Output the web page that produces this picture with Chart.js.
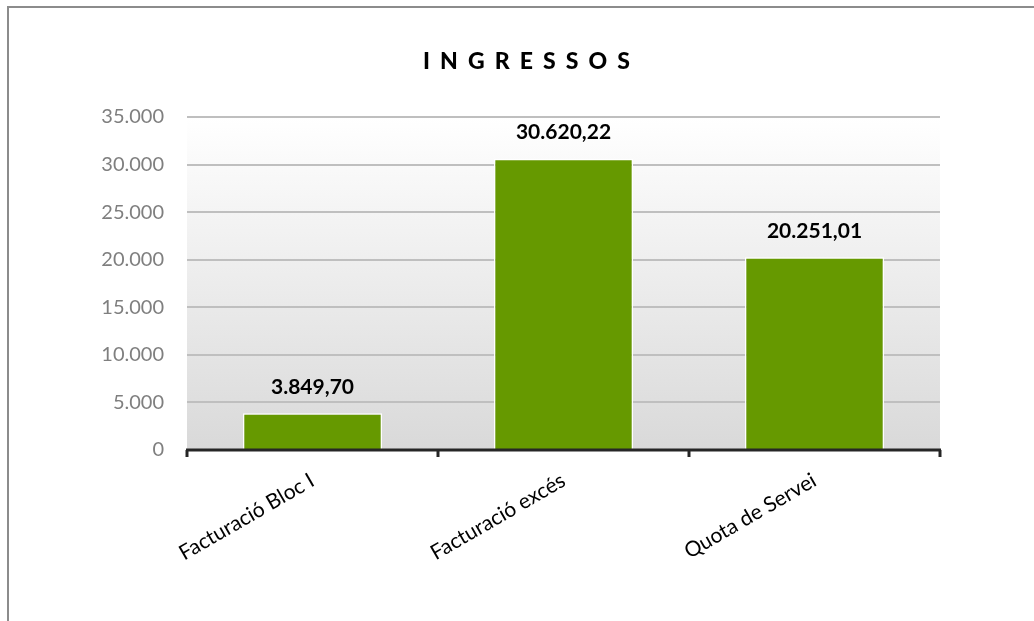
<!DOCTYPE html>
<html>
<head>
<meta charset="utf-8">
<script src="https://cdn.jsdelivr.net/npm/chart.js@4"></script>
<style>
html,body{margin:0;padding:0;background:#fff;}
#wrap{position:relative;width:1034px;height:621px;overflow:hidden;}
#frame{position:absolute;left:7px;top:6px;width:1100px;height:700px;border:2px solid #8c8c8c;box-sizing:border-box;}
canvas{position:absolute;left:0;top:0;}
</style>
</head>
<body>
<div id="wrap">
<div id="frame"></div>
<canvas id="c" width="1034" height="621"></canvas>
</div>
<script>
const categories = ["Facturació Bloc I", "Facturació excés", "Quota de Servei"];
const values = [3849.70, 30620.22, 20251.01];
const valueLabels = ["3.849,70", "30.620,22", "20.251,01"];
const yTicks = [0, 5000, 10000, 15000, 20000, 25000, 30000, 35000];
const titleText = "INGRESSOS";

const FONT = "Lato, 'Open Sans', sans-serif";

function fmtThousands(v){
  return String(v).replace(/\B(?=(\d{3})+(?!\d))/g, ".");
}

const bgPlugin = {
  id: 'bg',
  beforeDraw(chart){
    const {ctx, chartArea:a} = chart;
    const g = ctx.createLinearGradient(0, a.top, 0, a.bottom);
    g.addColorStop(0, '#ffffff');
    g.addColorStop(1, '#d9d9d9');
    ctx.save();
    ctx.fillStyle = g;
    ctx.fillRect(a.left, a.top, a.right - a.left, a.bottom - a.top);
    ctx.restore();
  }
};

const decoPlugin = {
  id: 'deco',
  afterDraw(chart){
    const {ctx, chartArea:a} = chart;
    const xs = chart.scales.x, ys = chart.scales.y;
    ctx.save();
    // title, letter-spaced across a fixed span
    ctx.fillStyle = '#000';
    ctx.font = "900 23px " + FONT;
    ctx.textAlign = 'left';
    ctx.textBaseline = 'middle';
    const chars = titleText.split('');
    const widths = chars.map(c => ctx.measureText(c).width);
    const total = widths.reduce((s, w) => s + w, 0);
    const left = 423, right = 630;
    const gap = (right - left - total) / (chars.length - 1);
    let tx = left;
    chars.forEach((c, i) => { ctx.fillText(c, tx, 62); tx += widths[i] + gap; });
    // axis line
    const y0 = ys.getPixelForValue(0);
    ctx.strokeStyle = '#262626';
    ctx.lineWidth = 3;
    ctx.beginPath();
    ctx.moveTo(a.left - 1, y0);
    ctx.lineTo(a.right + 1, y0);
    ctx.stroke();
    // tick marks at category boundaries
    const n = categories.length;
    const w = (xs.right - xs.left) / n;
    ctx.lineWidth = 3;
    for (let i = 0; i <= n; i++){
      const x = xs.left + i * w;
      ctx.beginPath();
      ctx.moveTo(x, y0);
      ctx.lineTo(x, y0 + 7);
      ctx.stroke();
    }
    // value labels
    const meta = chart.getDatasetMeta(0);
    ctx.font = "bold 21px " + FONT;
    ctx.textAlign = 'center';
    ctx.fillStyle = '#000';
    meta.data.forEach((bar, i) => {
      ctx.fillText(valueLabels[i], bar.x, bar.y - 26);
    });
    ctx.restore();
  }
};

new Chart(document.getElementById('c'), {
  type: 'bar',
  data: {
    labels: categories,
    datasets: [{
      data: values,
      backgroundColor: '#669900',
      borderColor: '#ffffff',
      borderWidth: 1.5,
      categoryPercentage: 1,
      barPercentage: 0.555
    }]
  },
  options: {
    responsive: false,
    animation: false,
    devicePixelRatio: 1,
    layout: { padding: { top: 117, right: 94, bottom: 0, left: 0 } },
    plugins: { legend: { display: false }, tooltip: { enabled: false }, title: { display: false } },
    scales: {
      y: {
        min: 0, max: 35000,
        afterFit(s){ s.width = 187; },
        afterBuildTicks(s){ s.ticks = yTicks.map(v => ({value: v})); },
        ticks: {
          color: '#7f7f7f',
          font: { family: FONT, size: 20 },
          padding: 23,
          callback: v => fmtThousands(v)
        },
        grid: { color: '#bfbfbf', lineWidth: 2, drawTicks: false },
        border: { display: false }
      },
      x: {
        afterFit(s){ s.height = 171; },
        ticks: {
          color: '#000',
          font: { family: FONT, size: 21 },
          minRotation: 30, maxRotation: 30,
          padding: 10
        },
        grid: { display: false },
        border: { display: false }
      }
    }
  },
  plugins: [bgPlugin, decoPlugin]
});
</script>
</body>
</html>
